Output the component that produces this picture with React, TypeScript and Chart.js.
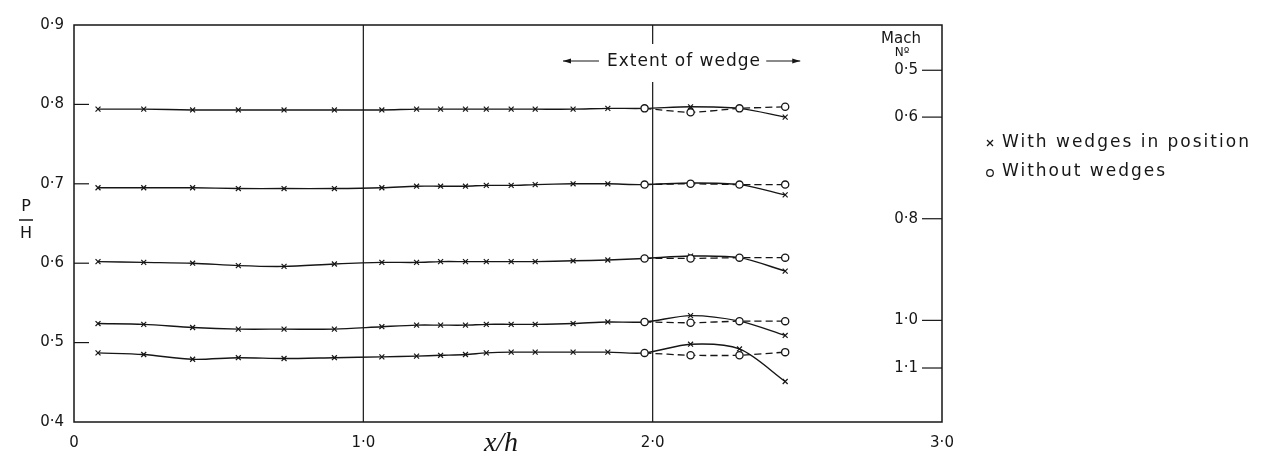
import React, { useEffect, useRef } from "react";
import { Chart, registerables } from "chart.js";

Chart.register(...registerables);

// ---------- data ----------
const xPositions = [0.083, 0.241, 0.41, 0.568, 0.726, 0.9, 1.064, 1.184, 1.267, 1.353, 1.425, 1.511, 1.594, 1.725, 1.845, 1.972, 2.131, 2.3, 2.458];
const xWithoutPositions = [1.972, 2.131, 2.3, 2.458];

// "with wedges in position" (x markers), one curve per Mach number
const withWedges1 = [0.794, 0.794, 0.793, 0.793, 0.793, 0.793, 0.793, 0.794, 0.794, 0.794, 0.794, 0.794, 0.794, 0.794, 0.795, 0.795, 0.797, 0.795, 0.784];
const withWedges2 = [0.695, 0.695, 0.695, 0.694, 0.694, 0.694, 0.695, 0.697, 0.697, 0.697, 0.698, 0.698, 0.699, 0.700, 0.700, 0.699, 0.701, 0.699, 0.686];
const withWedges3 = [0.602, 0.601, 0.600, 0.597, 0.596, 0.599, 0.601, 0.601, 0.602, 0.602, 0.602, 0.602, 0.602, 0.603, 0.604, 0.606, 0.609, 0.607, 0.590];
const withWedges4 = [0.524, 0.523, 0.519, 0.517, 0.517, 0.517, 0.520, 0.522, 0.522, 0.522, 0.523, 0.523, 0.523, 0.524, 0.526, 0.526, 0.534, 0.527, 0.509];
const withWedges5 = [0.487, 0.485, 0.479, 0.481, 0.480, 0.481, 0.482, 0.483, 0.484, 0.485, 0.487, 0.488, 0.488, 0.488, 0.488, 0.487, 0.498, 0.492, 0.451];

// "without wedges" (o markers)
const withoutWedges1 = [0.795, 0.790, 0.795, 0.797];
const withoutWedges2 = [0.699, 0.700, 0.699, 0.699];
const withoutWedges3 = [0.606, 0.606, 0.607, 0.607];
const withoutWedges4 = [0.526, 0.525, 0.527, 0.527];
const withoutWedges5 = [0.487, 0.484, 0.484, 0.488];

const xTickLabels = ["0", "1·0", "2·0", "3·0"];
const yTickLabels = ["0·4", "0·5", "0·6", "0·7", "0·8", "0·9"];
const yInnerTickValues = [0.5, 0.6, 0.7, 0.8];
// Mach number scale on the right, placed at the matching p/H value
const machTickValues = [0.843, 0.784, 0.656, 0.528, 0.468];
const machTickLabels = ["0·5", "0·6", "0·8", "1·0", "1·1"];
const xGridValues = [1, 2];

const legendWith = "With wedges in position";
const legendWithout = "Without wedges";
const wedgeLabel = "Extent of wedge";

// ---------- styling ----------
const INK = "#161616";
const FONT = "'DejaVu Sans', sans-serif";

const withSets = [withWedges1, withWedges2, withWedges3, withWedges4, withWedges5];
const withoutSets = [withoutWedges1, withoutWedges2, withoutWedges3, withoutWedges4, withoutWedges5];

function line(ctx: CanvasRenderingContext2D, x1: number, y1: number, x2: number, y2: number) {
  ctx.beginPath();
  ctx.moveTo(x1, y1);
  ctx.lineTo(x2, y2);
  ctx.stroke();
}

const decorPlugin = {
  id: "decor",
  beforeDatasetsDraw(chart: any) {
    const { ctx, chartArea: a, scales } = chart;
    const xs = scales.x;
    const ys = scales.y;
    ctx.save();
    ctx.strokeStyle = INK;
    ctx.lineWidth = 1.5;
    ctx.strokeRect(a.left, a.top, a.right - a.left, a.bottom - a.top);
    ctx.lineWidth = 1.2;
    // vertical lines at x = 1.0 and 2.0 (gap at 2.0 for the wedge label)
    xGridValues.forEach((v) => {
      const px = xs.getPixelForValue(v);
      if (v === 2) {
        line(ctx, px, a.top, px, 44);
        line(ctx, px, 82, px, a.bottom);
      } else {
        line(ctx, px, a.top, px, a.bottom);
      }
    });
    // inner tick marks, left axis
    yInnerTickValues.forEach((v) => {
      const py = ys.getPixelForValue(v);
      line(ctx, a.left, py, a.left + 15, py);
    });
    // inner tick marks and labels, right (Mach) axis
    ctx.fillStyle = INK;
    ctx.font = `15px ${FONT}`;
    ctx.textAlign = "right";
    ctx.textBaseline = "middle";
    machTickValues.forEach((v, i) => {
      const py = ys.getPixelForValue(v);
      line(ctx, a.right - 20, py, a.right, py);
      ctx.fillText(machTickLabels[i], a.right - 24, py);
    });
    ctx.restore();
  },
  afterDraw(chart: any) {
    const { ctx, chartArea: a, scales } = chart;
    const xs = scales.x;
    ctx.save();
    ctx.fillStyle = INK;
    ctx.strokeStyle = INK;

    // y title: P over H
    ctx.font = `16px ${FONT}`;
    ctx.textAlign = "center";
    ctx.textBaseline = "middle";
    ctx.fillText("P", 26, 207);
    ctx.lineWidth = 1.5;
    line(ctx, 19, 220, 33, 220);
    ctx.fillText("H", 26, 234);

    // x title
    ctx.font = `italic 28px 'Liberation Serif', 'DejaVu Serif', serif`;
    ctx.fillText("x/h", 501, 444);

    // extent of wedge
    ctx.font = `17px ${FONT}`;
    (ctx as any).letterSpacing = "1px";
    ctx.fillText(wedgeLabel, 684, 62);
    (ctx as any).letterSpacing = "0px";
    ctx.lineWidth = 1.1;
    const lx = xs.getPixelForValue(1.69);
    const rx = xs.getPixelForValue(2.51);
    line(ctx, lx, 61, lx + 36, 61);
    line(ctx, rx - 34, 61, rx, 61);
    ctx.beginPath();
    ctx.moveTo(lx, 61); ctx.lineTo(lx + 8, 58.5); ctx.lineTo(lx + 8, 63.5); ctx.closePath();
    ctx.fill();
    ctx.beginPath();
    ctx.moveTo(rx, 61); ctx.lineTo(rx - 8, 58.5); ctx.lineTo(rx - 8, 63.5); ctx.closePath();
    ctx.fill();

    // Mach No title
    ctx.font = `15px ${FONT}`;
    ctx.textAlign = "center";
    ctx.fillText("Mach", a.right - 41, 39);
    ctx.font = `12px ${FONT}`;
    ctx.fillText("N\u00BA", a.right - 40, 53);

    // legend
    ctx.textAlign = "left";
    ctx.font = `17px ${FONT}`;
    (ctx as any).letterSpacing = "2px";
    ctx.fillText(legendWith, 1002, 143);
    ctx.fillText(legendWithout, 1002, 172);
    (ctx as any).letterSpacing = "0px";
    ctx.lineWidth = 1.2;
    // x marker
    line(ctx, 987, 140, 993, 146);
    line(ctx, 993, 140, 987, 146);
    // o marker
    ctx.beginPath();
    ctx.arc(990, 173, 3.3, 0, Math.PI * 2);
    ctx.stroke();
    ctx.restore();
  },
};

export default function App() {
  const canvasRef = useRef<HTMLCanvasElement | null>(null);

  useEffect(() => {
    if (!canvasRef.current) return;
    const datasets: any[] = [];
    withSets.forEach((vals, i) => {
      datasets.push({
        label: `with-${i}`,
        data: vals.map((v, j) => ({ x: xPositions[j], y: v })),
        borderColor: INK,
        borderWidth: 1.4,
        tension: 0.3,
        pointStyle: "crossRot",
        pointRadius: 3.5,
        pointBorderWidth: 1.2,
        pointBorderColor: INK,
        pointBackgroundColor: INK,
        fill: false,
        order: 2,
      });
    });
    withoutSets.forEach((vals, i) => {
      datasets.push({
        label: `without-${i}`,
        data: vals.map((v, j) => ({ x: xWithoutPositions[j], y: v })),
        borderColor: INK,
        borderWidth: 1.3,
        borderDash: [7, 4],
        tension: 0.2,
        pointStyle: "circle",
        pointRadius: 3.6,
        pointBorderWidth: 1.3,
        pointBorderColor: INK,
        pointBackgroundColor: "#ffffff",
        fill: false,
        order: 1,
      });
    });

    const chart = new Chart(canvasRef.current, {
      type: "line",
      data: { datasets },
      options: {
        animation: false,
        responsive: false,
        devicePixelRatio: 1,
        layout: { padding: { top: 25, left: 0, right: 329, bottom: 0 } },
        plugins: {
          legend: { display: false },
          tooltip: { enabled: false },
        },
        scales: {
          x: {
            type: "linear",
            min: 0,
            max: 3,
            afterFit: (s: any) => { s.height = 51; },
            grid: { display: false, drawTicks: false },
            border: { display: false },
            ticks: {
              stepSize: 1,
              autoSkip: false,
              maxRotation: 0,
              padding: 12,
              color: INK,
              font: { family: "DejaVu Sans", size: 15 },
              callback: (_v: any, i: number) => xTickLabels[i],
            },
          },
          y: {
            type: "linear",
            position: "left",
            min: 0.4,
            max: 0.9,
            afterFit: (s: any) => { s.width = 74; },
            grid: { display: false, drawTicks: false },
            border: { display: false },
            ticks: {
              stepSize: 0.1,
              autoSkip: false,
              padding: 10,
              color: INK,
              font: { family: "DejaVu Sans", size: 15 },
              callback: (_v: any, i: number) => yTickLabels[i],
            },
          },
        },
      },
      plugins: [decorPlugin],
    } as any);
    return () => chart.destroy();
  }, []);

  return (
    <div style={{ position: "fixed", left: 0, top: 0, width: 1271, height: 473, background: "#fff" }}>
      <canvas ref={canvasRef} width={1271} height={473} />
    </div>
  );
}
